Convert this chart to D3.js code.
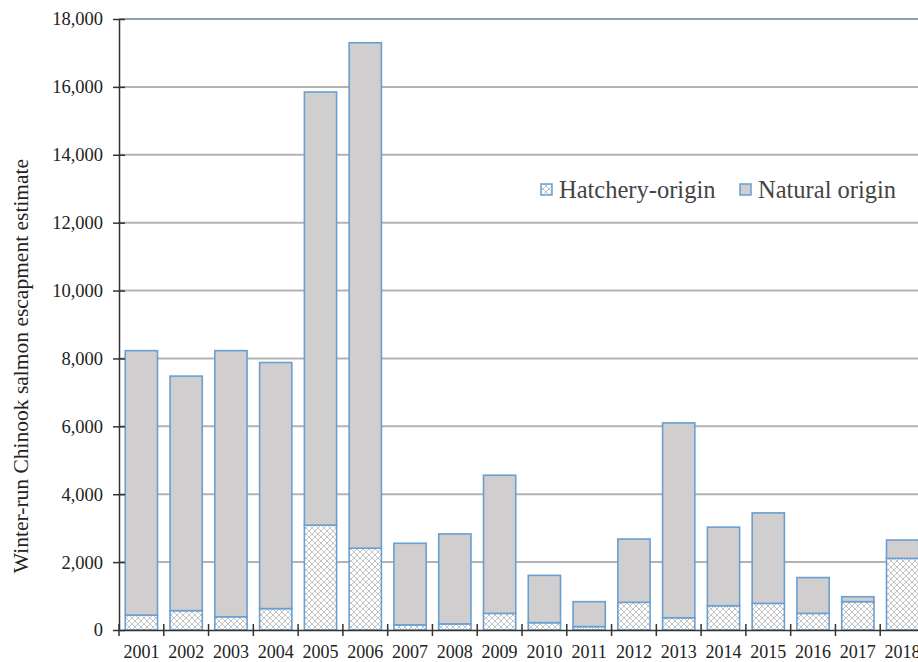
<!DOCTYPE html>
<html>
<head>
<meta charset="utf-8">
<script src="https://cdn.jsdelivr.net/npm/d3@7"></script>
<style>
html,body{margin:0;padding:0;background:#fff;overflow:hidden;}
svg{display:block;}
svg text{font-family:'Liberation Serif','Tinos','DejaVu Serif',serif !important;}
</style>
</head>
<body>
<svg id="chart" width="918" height="662"></svg>
<script>
const years = ["2001","2002","2003","2004","2005","2006","2007","2008","2009","2010","2011","2012","2013","2014","2015","2016","2017","2018"];
const totalEscapement = [8230,7480,8230,7880,15850,17300,2555,2830,4560,1610,835,2680,6100,3030,3450,1545,980,2650];
const hatcheryOrigin = [440,570,390,630,3090,2410,150,180,490,215,100,815,360,715,785,490,835,2110];
const naturalOrigin = totalEscapement.map((t,i)=>t-hatcheryOrigin[i]);
const yTicks = [0,2000,4000,6000,8000,10000,12000,14000,16000,18000];
const seriesNames = ["Hatchery-origin","Natural origin"];

const svg = d3.select("#chart");
const mLeft = 119, mRight = 925, mTop = 19, mBottom = 630;
const serif = "'Liberation Serif','Tinos','DejaVu Serif',serif";

const x = d3.scaleBand().domain(years).range([mLeft,mRight]).paddingInner(0.28).paddingOuter(0.14);
const y = d3.scaleLinear().domain([0,18000]).range([mBottom,mTop]);

// hatch pattern
const defs = svg.append("defs");
const pat = defs.append("pattern").attr("id","hatch").attr("patternUnits","userSpaceOnUse")
  .attr("width",6).attr("height",6);
pat.append("rect").attr("width",6).attr("height",6).attr("fill","#fff");
pat.append("path").attr("d","M0,0L6,6M6,0L0,6").attr("stroke","#c4c4c4").attr("stroke-width",1);

// gridlines
svg.append("g").selectAll("line").data(yTicks.filter(d=>d>0)).join("line")
  .attr("x1",mLeft).attr("x2",918).attr("y1",d=>y(d)).attr("y2",d=>y(d))
  .attr("stroke",d=>d===18000?"#8fa0b5":"#b3b3b3").attr("stroke-width",2);

// stacked bars
const stack = d3.stack().keys(["h","n"]);
const rows = years.map((yr,i)=>({year:yr,h:hatcheryOrigin[i],n:naturalOrigin[i]}));
const layers = stack(rows);
const fills = ["url(#hatch)","#d0cece"];
svg.append("g").selectAll("g").data(layers).join("g")
  .attr("fill",(d,i)=>fills[i])
  .selectAll("rect").data(d=>d).join("rect")
  .attr("x",d=>x(d.data.year)).attr("width",x.bandwidth())
  .attr("y",d=>y(d[1])).attr("height",d=>y(d[0])-y(d[1]))
  .attr("stroke","#6a9fd2").attr("stroke-width",1.6);

// y axis
const yAxis = d3.axisLeft(y).tickValues(yTicks).tickFormat(d3.format(",")).tickSizeInner(0).tickSizeOuter(0).tickPadding(16);
const ya = svg.append("g").attr("transform",`translate(${mLeft},0)`).call(yAxis);
ya.attr("font-family",serif);
ya.select(".domain").attr("stroke","#333").attr("stroke-width",1.5);
ya.selectAll(".tick text").attr("font-size",18.5).style("font-family",serif).attr("fill","#222");
ya.selectAll(".tick").append("line").attr("x1",-6).attr("x2",6).attr("stroke","#333").attr("stroke-width",1.5);

// x axis
const xAxis = d3.axisBottom(x).tickSize(0).tickPadding(15);
const xa = svg.append("g").attr("transform",`translate(0,${mBottom})`).call(xAxis);
xa.attr("font-family",serif);
xa.select(".domain").attr("stroke","#333").attr("stroke-width",1.5);
xa.selectAll(".tick text").attr("font-size",18).style("font-family",serif).attr("fill","#222");
const step = x.step();
const bounds = d3.range(years.length+1).map(i=>mLeft+i*step);
xa.append("g").selectAll("line").data(bounds).join("line")
  .attr("x1",d=>d).attr("x2",d=>d).attr("y1",-6).attr("y2",6)
  .attr("stroke","#333").attr("stroke-width",1.5);

// y title
svg.append("text").attr("transform","translate(28,366) rotate(-90)")
  .attr("text-anchor","middle").attr("font-size",21.5).style("font-family",serif).attr("fill","#222")
  .text("Winter-run Chinook salmon escapment estimate");

// legend
const legend = svg.append("g");
const lx = [541,740];
seriesNames.forEach((name,i)=>{
  legend.append("rect").attr("x",lx[i]).attr("y",184).attr("width",11).attr("height",11)
    .attr("fill",fills[i]).attr("stroke","#6a9fd2").attr("stroke-width",1.5);
  legend.append("text").attr("x",lx[i]+18).attr("y",198).attr("font-size",24.5).style("font-family",serif).attr("fill","#444").text(name);
});
</script>
</body>
</html>
